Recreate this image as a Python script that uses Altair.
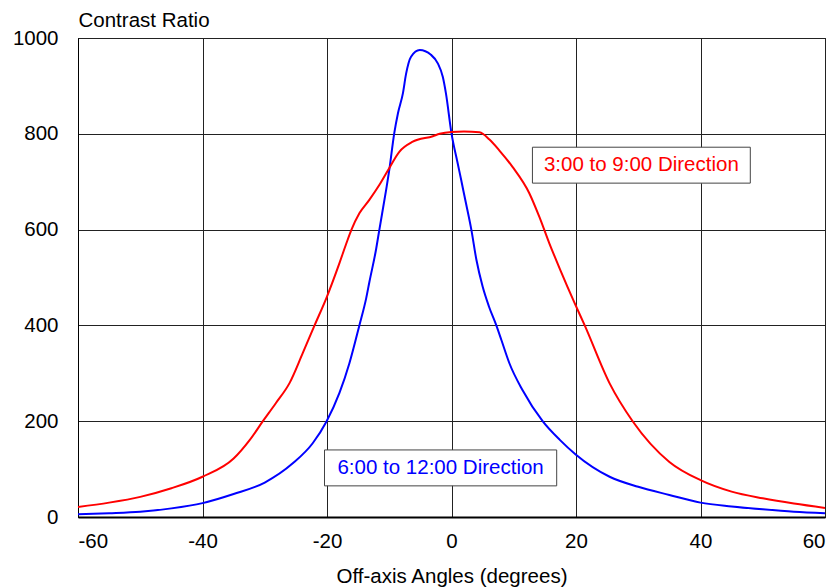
import altair as alt
import pandas as pd

# 3:00 to 9:00 direction (red)
red_x = [-60, -55, -50, -45, -40, -35, -32.4, -30.3, -28.2, -26, -23.9, -22, -20.1, -18.0,
         -16.9, -16.1, -14.8, -13.2, -11.6, -10.2, -8.35, -6.3, -3, -1.9, 0, 2, 4.5, 6.1,
         7.7, 9.8, 12.5, 14.1, 15.7, 17.5, 19.8, 21.4, 25.4, 29.1, 35, 40, 45, 50, 55, 60]
red_y = [21, 30, 42, 60, 84, 122, 161, 200, 238, 280, 342, 400, 457, 530,
         571, 599, 634, 662, 693, 724, 763, 783, 795, 800, 804, 805, 803, 788,
         765, 731, 676, 627, 572, 515, 446, 400, 279, 200, 115, 77, 53, 39, 28, 19]

# 6:00 to 12:00 direction (blue)
blue_x = [-60, -55, -50, -45, -40, -35, -30, -25.5, -22.3, -20.1, -18, -16.4, -14.8, -13.7,
          -13.2, -12.1, -11.6, -10.5, -10.0, -9.2, -8.6, -7.8, -7.3, -6.5, -5.1, -3.3, -2.2,
          -1.4, -0.9, 0, 1.0, 1.55, 2.1, 3.2, 4.0, 5.0, 6.0, 7.2, 8.0, 9.3, 11.4, 14.7,
          17.4, 19.9, 25.4, 30, 35, 40, 45, 50, 55, 60]
blue_y = [6, 8, 11, 18, 29, 48, 72, 112, 154, 199, 259, 321, 400, 457,
          490, 560, 599, 683, 724, 801, 843, 885, 925, 961, 975, 965, 947,
          919, 885, 801, 738, 704, 669, 599, 537, 481, 440, 400, 370, 321, 265, 199,
          161, 131, 84, 63, 46, 30, 22, 16, 11, 8]

# annotation boxes (data coordinates)
label_text = ["3:00 to 9:00 Direction", "6:00 to 12:00 Direction"]
label_color = ["#ff0000", "#0000ff"]
box_x1 = [13.0, -20.4]
box_x2 = [48.0, 16.9]
box_y1 = [772, 140]
box_y2 = [697, 65]

x_ticks = [-60, -40, -20, 0, 20, 40, 60]
y_ticks = [0, 200, 400, 600, 800, 1000]

red_df = pd.DataFrame({"angle": red_x, "cr": red_y, "i": range(len(red_x))})
blue_df = pd.DataFrame({"angle": blue_x, "cr": blue_y, "i": range(len(blue_x))})
lab_df = pd.DataFrame({
    "text": label_text, "color": label_color,
    "x1": box_x1, "x2": box_x2, "y1": box_y1, "y2": box_y2,
})
lab_df["xm"] = (lab_df["x1"] + lab_df["x2"]) / 2
lab_df["ym"] = (lab_df["y1"] + lab_df["y2"]) / 2

FONT = "Liberation Sans"

xscale = alt.Scale(domain=[-60, 60], nice=False, zero=False)
yscale = alt.Scale(domain=[0, 1000], nice=False)

xaxis = alt.Axis(values=x_ticks, title="Off-axis Angles (degrees)", grid=True,
                 ticks=False, labelPadding=14, titlePadding=15,
                 labelExpr="'' + datum.value",
                 domainWidth=2, domainColor="black")
yaxis = alt.Axis(values=y_ticks, title="Contrast Ratio", grid=True, ticks=False,
                 format="d", labelPadding=20, titleAngle=0, titleAlign="left", titleX=0,
                 titleY=-12, titleBaseline="alphabetic",
                 domainWidth=1, domainColor="black")

base_x = alt.X("angle:Q", scale=xscale, axis=xaxis)
base_y = alt.Y("cr:Q", scale=yscale, axis=yaxis)

blue = alt.Chart(blue_df).mark_line(color="#0000ff", strokeWidth=2, interpolate="monotone").encode(
    x=base_x, y=base_y, order="i:Q")
red = alt.Chart(red_df).mark_line(color="#ff0000", strokeWidth=2, interpolate="monotone").encode(
    x=alt.X("angle:Q", scale=xscale), y=alt.Y("cr:Q", scale=yscale), order="i:Q")

boxes = alt.Chart(lab_df).mark_rect(fill="white", stroke="#444444", strokeWidth=1).encode(
    x=alt.X("x1:Q", scale=xscale), x2="x2:Q",
    y=alt.Y("y1:Q", scale=yscale), y2="y2:Q")
texts = alt.Chart(lab_df).mark_text(font=FONT, fontSize=20.5, baseline="middle",
                                    align="center").encode(
    x=alt.X("xm:Q", scale=xscale), y=alt.Y("ym:Q", scale=yscale),
    text="text:N", color=alt.Color("color:N", scale=None))

chart = alt.layer(blue, red, boxes, texts).properties(
    width=747, height=479,
    padding={"left": 70, "top": 30, "right": 6, "bottom": 72},
    autosize=alt.AutoSizeParams(type="none"),
    background="white",
).configure_view(
    stroke="black", strokeWidth=1
).configure_axis(
    labelFont=FONT, titleFont=FONT, labelFontSize=20.5, titleFontSize=20.5,
    labelColor="black", titleColor="black", titleFontWeight="normal",
    gridColor="#222222", gridWidth=1, gridOpacity=1,
)

chart.save("out.html", embed_options={"renderer": "svg", "actions": False})
